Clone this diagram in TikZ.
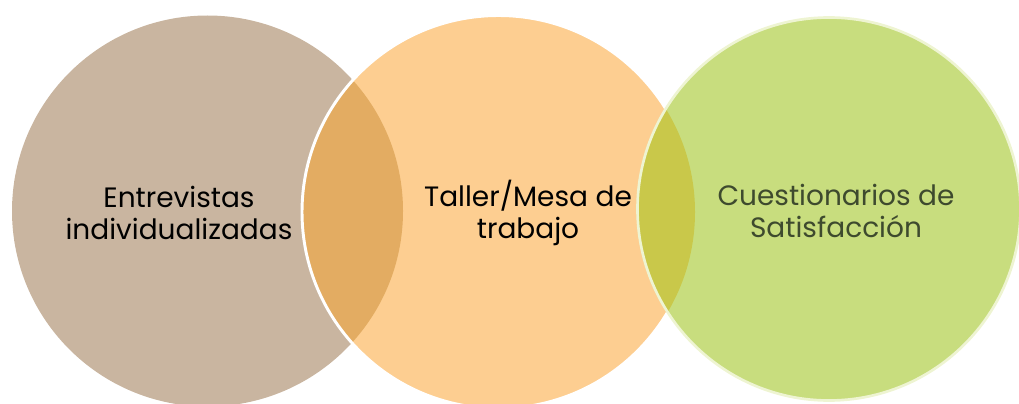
\documentclass[tikz,border=0pt]{standalone}
\usepackage{fontspec}
\setmainfont{Poppins}
\usepackage{tikz}

\definecolor{tanfill}{HTML}{C9B5A0}
\definecolor{orangefill}{HTML}{FDCE91}
\definecolor{greenfill}{HTML}{C8DD7E}
\definecolor{tanorange}{HTML}{E3AC62}
\definecolor{orangegreen}{HTML}{C9C84A}
\definecolor{greentext}{HTML}{3E4A2E}
\definecolor{greenrim}{HTML}{EEF4D2}

\begin{document}
\begin{tikzpicture}[x=0.75pt,y=-0.75pt, every node/.style={font=\fontsize{21}{24}\selectfont, align=center, inner sep=0pt}]
\useasboundingbox (0,0) rectangle (1019,403);
\coordinate (c1) at (207.5,211);
\coordinate (c2) at (498.5,212);
\coordinate (c3) at (829,209);
% first circle
\fill[tanfill] (c1) circle (195.5);
% second circle and its overlap
\fill[orangefill] (c2) circle (196.5);
\begin{scope}
\clip (c1) circle (195.5);
\fill[tanorange] (c2) circle (196.5);
\end{scope}
\draw[white, line width=2.2pt] (c2) circle (196.5);
% third circle and its overlap
\fill[greenfill] (c3) circle (191.5);
\begin{scope}
\clip (c2) circle (196.5);
\fill[orangegreen] (c3) circle (191.5);
\end{scope}
\draw[greenrim, line width=2pt] (c3) circle (191.5);
%labels
\node (entrevistas) at (179,213) {Entrevistas\\individualizadas};
\node (taller) at (528,213) {Taller/Mesa de\\trabajo};
\node[text=greentext] (cuestionarios) at (836,211) {Cuestionarios de\\Satisfacción};
\end{tikzpicture}
\end{document}
